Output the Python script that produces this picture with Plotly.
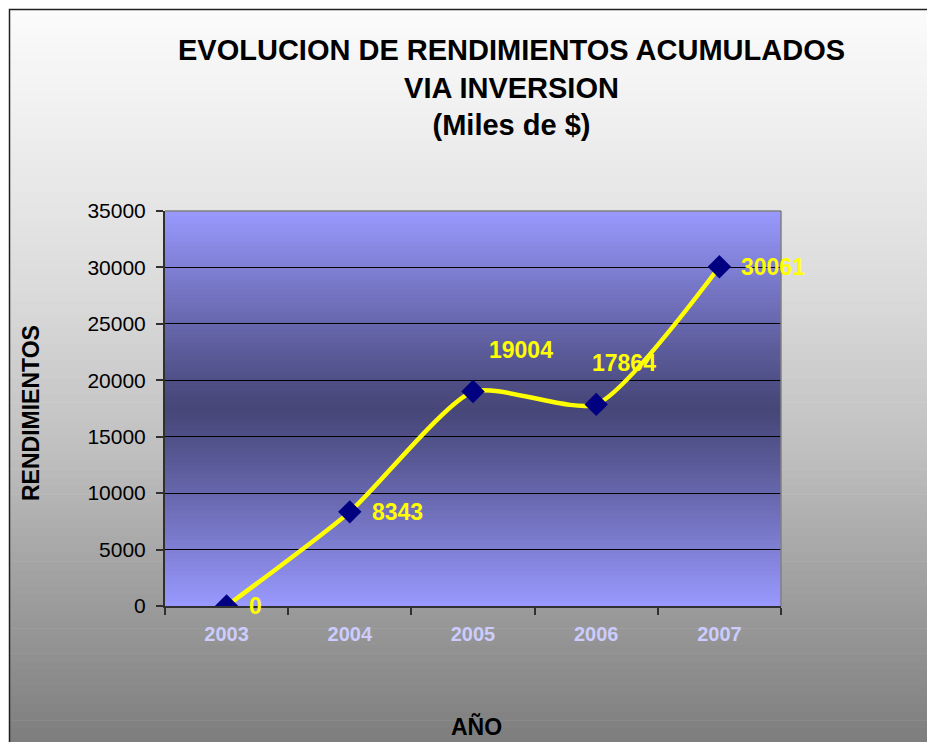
import plotly.graph_objects as go

# data
anios = ["2003", "2004", "2005", "2006", "2007"]
rendimientos = [0, 8343, 19004, 17864, 30061]
y_ticks = [0, 5000, 10000, 15000, 20000, 25000, 30000, 35000]

W, H = 935, 742
OFF = 8  # page body margin of the html output
PL, PR, PT, PB = 165 - OFF, 781 - OFF, 211 - OFF, 606 - OFF  # plot area in figure pixels

BOLD = "Liberation Sans, Arial"


def mix(c1, c2, t):
    return "rgb(%d,%d,%d)" % tuple(round(a + (b - a) * t) for a, b in zip(c1, c2))


def gray_at(py):
    stops = [(9, 252), (100, 242), (300, 218), (450, 192), (560, 166), (742, 126)]
    for (y0, g0), (y1, g1) in zip(stops, stops[1:]):
        if py <= y1:
            t = (py - y0) / (y1 - y0)
            g = g0 + (g1 - g0) * t
            return "rgb(%d,%d,%d)" % (g, g, g)
    return "rgb(126,126,126)"


# page pixel -> paper fraction
def px_x(p):
    return (p - OFF - PL) / (PR - PL)


def px_y(p):
    return (PB - (p - OFF)) / (PB - PT)


shapes = []
# chart-area background gradient
n = 90
for i in range(n):
    y0 = 9 + (H + 20 - 9) * i / n
    y1 = 9 + (H + 20 - 9) * (i + 1) / n + 0.6
    shapes.append(dict(type="rect", xref="paper", yref="paper", layer="below",
                       x0=px_x(9), x1=px_x(W + 20), y0=px_y(y0), y1=px_y(y1),
                       fillcolor=gray_at((y0 + y1) / 2), line_width=0))
shapes.append(dict(type="rect", xref="paper", yref="paper", layer="below",
                   x0=px_x(9.5), x1=px_x(W + 30), y0=px_y(9.5), y1=px_y(H + 30),
                   fillcolor="rgba(0,0,0,0)", line=dict(color="#202020", width=1.5)))

# plot-area gradient: light at edges, dark in the middle
light, dark = (153, 153, 255), (70, 70, 120)
m = 90
for i in range(m):
    t0, t1 = i / m, (i + 1) / m
    d = abs((t0 + t1) / 2 - 0.5) * 2
    shapes.append(dict(type="rect", xref="x domain", yref="y domain", layer="below",
                       x0=0, x1=1, y0=t0, y1=min(1, t1 + 0.004),
                       fillcolor=mix(dark, light, d ** 1.1), line_width=0))
shapes.append(dict(type="line", xref="x domain", yref="y domain", layer="above",
                   x0=0, x1=1, y0=1, y1=1, line=dict(color="#808080", width=1.5)))
shapes.append(dict(type="line", xref="x domain", yref="y domain", layer="above",
                   x0=1, x1=1, y0=0, y1=1, line=dict(color="#808080", width=1.5)))

fig = go.Figure()
fig.add_trace(go.Scatter(
    x=anios, y=rendimientos, mode="lines+markers",
    line=dict(color="#FFFF00", width=4.5, shape="spline", smoothing=0.6),
    marker=dict(symbol="diamond", size=18, color="#000080"),
    hoverinfo="x+y", showlegend=False,
))

label_dx = [20, 20, 14, -6, 20]
label_dy = [0, 0, 42, 41, 0]
annotations = []
for i, v in enumerate(rendimientos):
    annotations.append(dict(x=i, y=v, text="<b>%d</b>" % v, showarrow=False,
                            xshift=label_dx[i], yshift=label_dy[i], xanchor="left", yanchor="middle",
                            font=dict(color="#FFFF00", size=23, family=BOLD)))

# title and axis titles
annotations.append(dict(xref="paper", yref="paper", x=px_x(511), y=px_y(88),
                        xanchor="center", yanchor="middle", showarrow=False,
                        text="<b>EVOLUCION DE RENDIMIENTOS ACUMULADOS<br>VIA INVERSION<br>(Miles de $)</b>",
                        font=dict(size=29, color="black", family=BOLD)))
annotations.append(dict(xref="paper", yref="paper", x=px_x(476), y=px_y(726),
                        xanchor="center", yanchor="middle", showarrow=False,
                        text="<b>AÑO</b>", font=dict(size=23, color="black", family=BOLD)))
annotations.append(dict(xref="paper", yref="paper", x=px_x(31), y=px_y(413),
                        xanchor="center", yanchor="middle", showarrow=False, textangle=-90,
                        text="<b>RENDIMIENTOS</b>", font=dict(size=23, color="black", family=BOLD)))

fig.update_layout(
    width=W, height=H,
    margin=dict(l=PL, r=W - PR, t=PT, b=H - PB, pad=0),
    paper_bgcolor="white", plot_bgcolor="rgba(0,0,0,0)",
    font=dict(family=BOLD, color="black"),
    shapes=shapes,
    annotations=annotations,
)
fig.update_xaxes(
    type="category", range=[-0.5, len(anios) - 0.5], automargin=False,
    tickson="boundaries", ticks="outside", ticklen=7, tickwidth=1.5,
    tickcolor="#303030", showline=True, linecolor="#303030", linewidth=2,
    showgrid=False, tickfont=dict(size=20, color="#CCCCFF", family=BOLD),
    tickprefix="<b>", ticksuffix="</b>", ticklabelstandoff=9,
)
fig.update_yaxes(
    range=[0, 35000], tickvals=y_ticks, tickformat="d", automargin=False,
    ticks="outside", ticklen=7, tickwidth=1.5,
    tickcolor="#303030", showline=True, linecolor="#303030", linewidth=2,
    showgrid=True, gridcolor="black", gridwidth=1, zeroline=False,
    tickfont=dict(size=21, color="black", family=BOLD), ticklabelstandoff=6,
)

fig.write_html("out.html")
